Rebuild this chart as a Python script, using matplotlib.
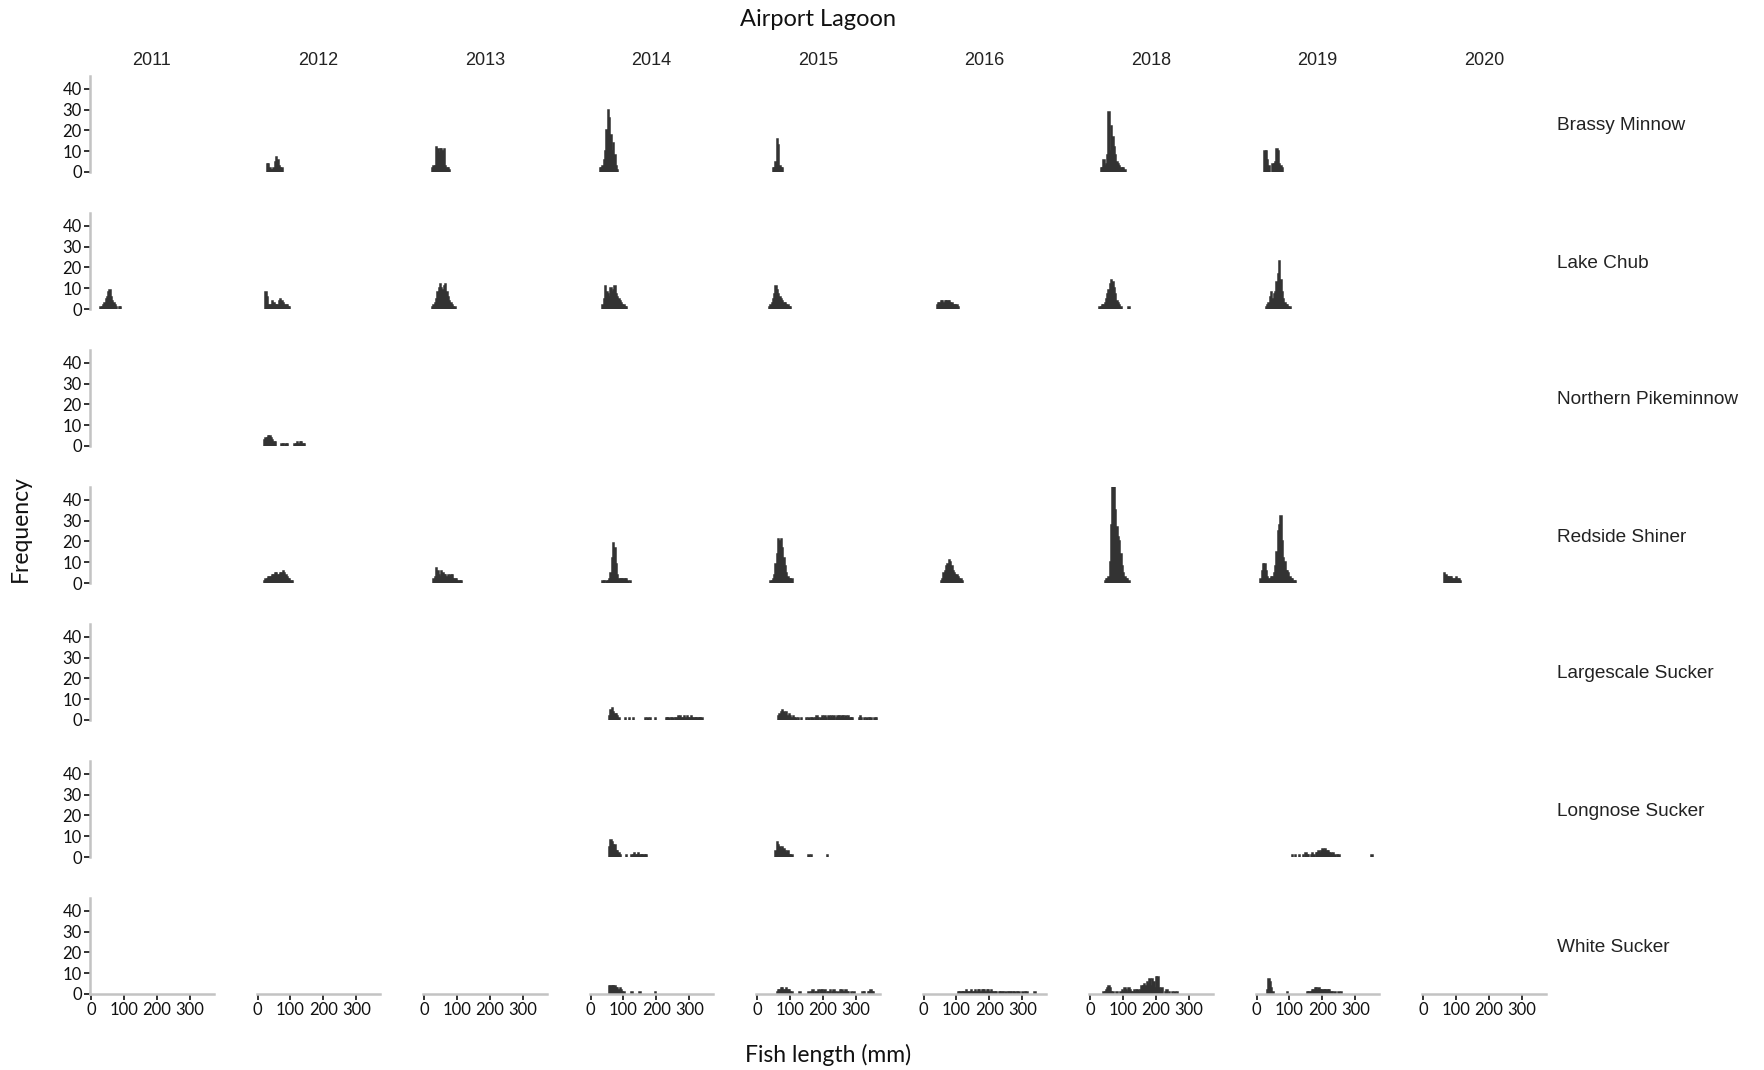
import matplotlib.pyplot as plt

# bin width of the length histograms (mm)
BIN = 4

years = [2011, 2012, 2013, 2014, 2015, 2016, 2018, 2019, 2020]
species = ["Brassy Minnow", "Lake Chub", "Northern Pikeminnow", "Redside Shiner",
           "Largescale Sucker", "Longnose Sucker", "White Sucker"]

# each entry: year -> (first bin start in mm, counts per 4 mm bin)
brassy_minnow = {
    2012: (28, [4, 4, 2, 1, 1, 2, 5, 7, 6, 3, 2, 2]),
    2013: (24, [2, 3, 3, 12, 11, 9, 11, 11, 10, 11, 3, 2, 2, 1]),
    2014: (28, [2, 2, 3, 6, 10, 20, 30, 26, 18, 10, 14, 8, 3, 1]),
    2015: (48, [2, 2, 5, 16, 13, 3, 2, 2]),
    2018: (32, [2, 2, 6, 3, 4, 8, 29, 10, 22, 17, 12, 8, 5, 4, 3, 2, 2, 2, 1]),
    2019: (24, [10, 10, 6, 3, 0, 0, 4, 4, 5, 11, 10, 4, 3, 2]),
}
lake_chub = {
    2011: (28, [1, 1, 2, 3, 5, 6, 8, 9, 6, 4, 3, 2, 1, 0, 1, 1]),
    2012: (24, [8, 6, 2, 2, 2, 4, 3, 2, 2, 2, 4, 5, 4, 3, 2, 2, 2, 1, 1]),
    2013: (24, [1, 2, 3, 5, 8, 10, 12, 10, 9, 11, 12, 8, 6, 4, 3, 2, 1, 1]),
    2014: (36, [2, 5, 11, 8, 7, 6, 10, 8, 9, 11, 7, 6, 5, 4, 3, 2, 2, 1, 1]),
    2015: (36, [1, 2, 3, 5, 7, 11, 9, 7, 6, 5, 4, 3, 3, 2, 2, 1, 1]),
    2016: (40, [2, 3, 3, 4, 4, 3, 4, 4, 4, 4, 3, 3, 2, 2, 2, 2, 1]),
    2018: (28, [1, 1, 2, 2, 3, 5, 7, 9, 12, 14, 13, 10, 7, 4, 3, 2, 1, 0, 0, 0, 0, 0, 1]),
    2019: (28, [1, 2, 3, 6, 8, 5, 7, 8, 13, 17, 23, 14, 8, 5, 3, 2, 2, 1, 1]),
}
northern_pikeminnow = {
    2012: (20, [3, 4, 4, 5, 5, 4, 3, 2, 2, 0, 0, 0, 0, 1, 1, 0, 1, 1, 0, 0, 0, 0, 0,
                1, 1, 2, 1, 2, 2, 1, 1]),
}
redside_shiner = {
    2012: (20, [1, 2, 2, 3, 3, 3, 4, 4, 5, 5, 4, 4, 5, 5, 6, 5, 4, 3, 2, 2, 1, 1]),
    2013: (28, [2, 3, 7, 6, 4, 3, 6, 5, 4, 4, 3, 4, 3, 4, 4, 2, 2, 2, 1, 1, 1, 1]),
    2014: (36, [1, 1, 0, 1, 1, 2, 5, 12, 19, 17, 9, 4, 2, 2, 2, 2, 2, 2, 2, 1, 0, 1]),
    2015: (40, [1, 1, 2, 4, 9, 14, 21, 20, 21, 17, 12, 8, 5, 3, 2, 2, 2]),
    2016: (52, [1, 2, 5, 6, 8, 9, 11, 10, 8, 6, 5, 4, 4, 3, 2, 2, 1]),
    2018: (44, [1, 2, 2, 3, 10, 28, 47, 46, 35, 27, 22, 20, 14, 8, 5, 3, 2, 2, 1]),
    2019: (12, [2, 6, 9, 9, 6, 3, 2, 2, 3, 3, 5, 8, 15, 25, 28, 32, 20, 12, 10, 6, 6,
                5, 3, 2, 2, 1, 1]),
    2020: (64, [5, 4, 3, 3, 3, 3, 2, 2, 2, 3, 2, 2, 1]),
}
largescale_sucker = {
    2014: (56, [2, 5, 6, 4, 3, 3, 2, 1, 0, 0, 0, 0, 1, 0, 0, 1, 0, 0, 1, 0, 0, 0, 0,
                0, 0, 0, 0, 1, 0, 1, 0, 1, 0, 0, 0, 1, 0, 0, 0, 0, 0, 0, 0, 1, 1, 1,
                0, 1, 1, 0, 1, 1, 2, 1, 2, 1, 1, 2, 1, 2, 1, 1, 2, 1, 1, 1, 1, 1, 1,
                1, 1]),
    2015: (64, [2, 3, 4, 5, 4, 3, 4, 2, 3, 2, 1, 2, 1, 1, 0, 1, 0, 1, 0, 0, 0, 1, 0,
                1, 0, 1, 1, 0, 1, 2, 1, 0, 1, 2, 1, 2, 1, 0, 2, 1, 2, 1, 2, 0, 1, 2,
                2, 1, 2, 2, 1, 2, 1, 2, 1, 1, 1, 0, 0, 0, 0, 1, 2, 1, 0, 1, 0, 1, 0,
                1, 1, 0, 0, 1, 1]),
}
longnose_sucker = {
    2014: (56, [5, 8, 7, 6, 6, 3, 3, 2, 1, 0, 0, 0, 0, 1, 0, 0, 0, 1, 1, 2, 1, 1, 2,
                1, 1, 1, 1, 1, 1]),
    2015: (56, [3, 7, 6, 5, 4, 5, 4, 3, 2, 3, 1, 1, 1, 0, 0, 0, 0, 0, 0, 0, 0, 0, 0,
                0, 0, 1, 0, 1, 0, 0, 0, 0, 0, 0, 0, 0, 0, 0, 0, 1]),
    2019: (108, [1, 0, 1, 0, 0, 1, 0, 0, 1, 0, 2, 1, 1, 0, 1, 2, 1, 0, 2, 2, 3, 2, 3,
                 4, 3, 4, 3, 3, 2, 2, 1, 2, 1, 0, 1, 1, 0, 0, 0, 0, 0, 0, 0, 0, 0, 0,
                 0, 0, 0, 0, 0, 0, 0, 0, 0, 0, 0, 0, 0, 0, 1]),
}
white_sucker = {
    2014: (56, [4, 4, 4, 4, 4, 3, 3, 2, 3, 2, 1, 1, 0, 0, 0, 0, 0, 1, 0, 0, 0, 0, 0,
                1, 0, 0, 0, 0, 0, 0, 0, 0, 0, 0, 0, 1]),
    2015: (60, [1, 2, 2, 3, 3, 2, 2, 3, 2, 2, 1, 1, 0, 0, 0, 0, 0, 1, 0, 0, 0, 0, 0,
                0, 1, 0, 1, 2, 0, 1, 1, 2, 0, 2, 2, 1, 2, 0, 1, 1, 2, 0, 1, 2, 1, 0,
                1, 0, 2, 2, 1, 1, 2, 1, 1, 0, 1, 0, 1, 0, 0, 0, 0, 0, 0, 1, 1, 0, 0,
                1, 1, 2, 1, 1]),
    2016: (104, [1, 1, 1, 1, 1, 1, 2, 1, 1, 1, 2, 1, 1, 2, 1, 2, 2, 1, 2, 2, 2, 1, 2,
                 2, 1, 2, 1, 1, 1, 1, 0, 1, 1, 1, 1, 0, 1, 0, 1, 1, 1, 0, 1, 1, 0, 1,
                 1, 0, 0, 1, 0, 1, 1, 0, 0, 0, 0, 0, 1]),
    2018: (40, [1, 1, 2, 3, 4, 3, 1, 1, 0, 0, 1, 0, 0, 1, 2, 1, 3, 2, 1, 3, 2, 1, 1,
                2, 1, 2, 2, 1, 2, 4, 4, 5, 4, 6, 5, 7, 4, 7, 6, 3, 8, 8, 3, 2, 3, 0,
                0, 1, 2, 0, 1, 0, 1, 0, 1, 0, 1]),
    2019: (32, [2, 7, 6, 3, 1, 0, 0, 0, 0, 0, 0, 0, 0, 0, 0, 1, 0, 0, 0, 0, 0, 0, 0,
                0, 0, 0, 0, 0, 0, 0, 1, 1, 1, 1, 2, 2, 3, 3, 2, 3, 2, 2, 2, 2, 2, 2,
                2, 2, 1, 1, 0, 1, 0, 0, 1, 0, 1]),
}

panels = [brassy_minnow, lake_chub, northern_pikeminnow, redside_shiner,
          largescale_sucker, longnose_sucker, white_sucker]

W, H = 1764, 1070
fig = plt.figure(figsize=(W / 100, H / 100), dpi=100)

bar_color = "#333333"
spine_color = "#c3c3c3"
px_mm = 0.3296      # pixels per mm
px_count = 2.081    # pixels per count
xmin, xmax = -3, 372
ymax = 46

for r, sp in enumerate(species):
    for c, yr in enumerate(years):
        left = 91 + 166.5 * c + xmin * px_mm
        width = (xmax - xmin) * px_mm
        bottom = 172 + 137 * r
        height = ymax * px_count
        ax = fig.add_axes([left / W, (H - bottom) / H, width / W, height / H])
        data = panels[r].get(yr)
        if data:
            start, counts = data
            edges = [start + BIN * i for i in range(len(counts))]
            xs = [e for e, n in zip(edges, counts) if n > 0]
            ns = [n for n in counts if n > 0]
            ax.bar(xs, ns, width=BIN, align="edge", color=bar_color,
                   edgecolor=bar_color, linewidth=1.1)
        ax.set_xlim(xmin, xmax)
        ax.set_ylim(0, ymax)
        for s in ["top", "right"]:
            ax.spines[s].set_visible(False)
        ax.spines["left"].set_color(spine_color)
        ax.spines["left"].set_linewidth(1.8)
        ax.spines["bottom"].set_color(spine_color)
        ax.spines["bottom"].set_linewidth(1.8)
        ax.set_xticks([0, 100, 200, 300])
        ax.set_yticks([0, 10, 20, 30, 40])
        ax.tick_params(length=4, width=1.3, color="#222222", labelsize=12,
                       pad=2, labelcolor="#111111")
        for lab in ax.get_xticklabels() + ax.get_yticklabels():
            lab.set_fontfamily("Lato")
        if c != 0:
            ax.spines["left"].set_visible(False)
            ax.tick_params(axis="y", left=False, labelleft=False)
        if r != len(species) - 1:
            ax.spines["bottom"].set_visible(False)
            ax.tick_params(axis="x", bottom=False, labelbottom=False)
        ax.patch.set_alpha(0)
        if r == 0:
            ax.text(0.5, 1 + (76.5 - 60.5) / height, str(yr), transform=ax.transAxes,
                    ha="center", va="center", fontsize=13,
                    family="Liberation Sans", color="#222222")
    fig.text(1557 / W, (H - (126 + 137 * r)) / H, sp, ha="left", va="center",
             fontsize=13.7, family="Liberation Sans", color="#222222")

fig.text(818 / W, 1 - 20 / H, "Airport Lagoon", ha="center", va="center",
         fontsize=17, family="Lato", color="#111111")
fig.text(828 / W, 1 - 1055 / H, "Fish length (mm)", ha="center", va="center",
         fontsize=16.5, family="Lato", color="#111111")
fig.text(20 / W, 1 - 529 / H, "Frequency", ha="center", va="center",
         rotation=90, fontsize=16.5, family="Lato", color="#111111")

fig.savefig("out.png", dpi=100)
